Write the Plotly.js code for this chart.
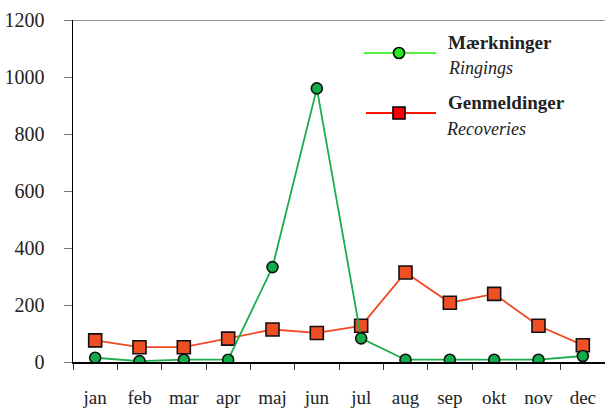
<!DOCTYPE html>
<html>
<head>
<meta charset="utf-8">
<script src="https://cdn.plot.ly/plotly-3.0.1.min.js"></script>
<style>html,body{margin:0;padding:0;background:#fff;}#chart{width:605px;height:408px;}</style>
</head>
<body>
<div id="chart"></div>
<script>
const months = ["jan","feb","mar","apr","maj","jun","jul","aug","sep","okt","nov","dec"];
const ringings = [15, 3, 8, 8, 333, 960, 83, 8, 8, 8, 8, 21];
const recoveries = [76, 52, 52, 82, 114, 102, 127, 314, 208, 239, 127, 59];
const legendNames = [["Mærkninger","Ringings"],["Genmeldinger","Recoveries"]];

const FONT = "'Liberation Serif', 'DejaVu Serif', serif";

const traces = [
  {
    x: months, y: recoveries, type: "scatter", mode: "lines+markers",
    line: {color: "#ef4a24", width: 1.8},
    marker: {symbol: "square", size: 13, color: "#f04f26", line: {color: "#111", width: 1.6}},
    showlegend: false, hoverinfo: "x+y"
  },
  {
    x: months, y: ringings, type: "scatter", mode: "lines+markers",
    line: {color: "#1aae4c", width: 1.8},
    marker: {symbol: "circle", size: 11, color: "#12ad4b", line: {color: "#111", width: 1.6}},
    showlegend: false, hoverinfo: "x+y"
  }
];

const L = 73, R = 605, T = 20, B = 362;
const px = v => (v - L) / (R - L);
const py = v => (B - v) / (B - T);

const shapes = [
  {type: "line", xref: "paper", yref: "y", x0: 0, x1: 1, y0: 1200, y1: 1200, line: {color: "#333", width: 1}},
  {type: "line", xref: "paper", yref: "paper", x0: px(364), x1: px(436), y0: py(53), y1: py(53), line: {color: "#55ee44", width: 2}},
  {type: "circle", xref: "paper", yref: "paper", xsizemode: "pixel", ysizemode: "pixel",
   xanchor: px(399), yanchor: py(53), x0: -5.5, x1: 5.5, y0: -5.5, y1: 5.5,
   fillcolor: "#22ee22", line: {color: "#000", width: 1.6}},
  {type: "line", xref: "paper", yref: "paper", x0: px(366), x1: px(436), y0: py(113), y1: py(113), line: {color: "#ff1100", width: 2}},
  {type: "rect", xref: "paper", yref: "paper", xsizemode: "pixel", ysizemode: "pixel",
   xanchor: px(399), yanchor: py(113), x0: -6, x1: 6, y0: -6, y1: 6,
   fillcolor: "#ff0000", line: {color: "#000", width: 1.6}}
];

const annotations = [
  {text: "<b>" + legendNames[0][0] + "</b>", x: px(446), y: py(42), xref: "paper", yref: "paper", xanchor: "left", yanchor: "middle", showarrow: false, font: {family: FONT, size: 19, color: "#222"}},
  {text: "<i>" + legendNames[0][1] + "</i>", x: px(446), y: py(68), xref: "paper", yref: "paper", xanchor: "left", yanchor: "middle", showarrow: false, font: {family: FONT, size: 18, color: "#222"}},
  {text: "<b>" + legendNames[1][0] + "</b>", x: px(446), y: py(102), xref: "paper", yref: "paper", xanchor: "left", yanchor: "middle", showarrow: false, font: {family: FONT, size: 19, color: "#222"}},
  {text: "<i>" + legendNames[1][1] + "</i>", x: px(444), y: py(129), xref: "paper", yref: "paper", xanchor: "left", yanchor: "middle", showarrow: false, font: {family: FONT, size: 18, color: "#222"}}
];

const layout = {
  width: 605, height: 408,
  margin: {l: L, r: 605 - R, t: T, b: 408 - B, pad: 0},
  paper_bgcolor: "#fff", plot_bgcolor: "#fff",
  font: {family: FONT, size: 19, color: "#222"},
  showlegend: false,
  xaxis: {
    type: "category", categoryorder: "array", categoryarray: months,
    range: [-0.5, 11.5], tickson: "boundaries",
    ticks: "outside", ticklen: 6, tickwidth: 1, tickcolor: "#333",
    showline: true, linecolor: "#000", linewidth: 1.5,
    showgrid: false, zeroline: false,
    ticklabelstandoff: 18,
    tickfont: {family: FONT, size: 19, color: "#222"},
    fixedrange: true
  },
  yaxis: {
    range: [0, 1200], tickmode: "linear", tick0: 0, dtick: 200,
    ticks: "outside", ticklen: 8, tickwidth: 1, tickcolor: "#777",
    showline: true, linecolor: "#000", linewidth: 1.5,
    showgrid: false, zeroline: false,
    ticklabelstandoff: 15,
    tickfont: {family: FONT, size: 20, color: "#222"},
    fixedrange: true
  },
  shapes: shapes,
  annotations: annotations
};

Plotly.newPlot("chart", traces, layout, {displayModeBar: false, staticPlot: true});
</script>
</body>
</html>
